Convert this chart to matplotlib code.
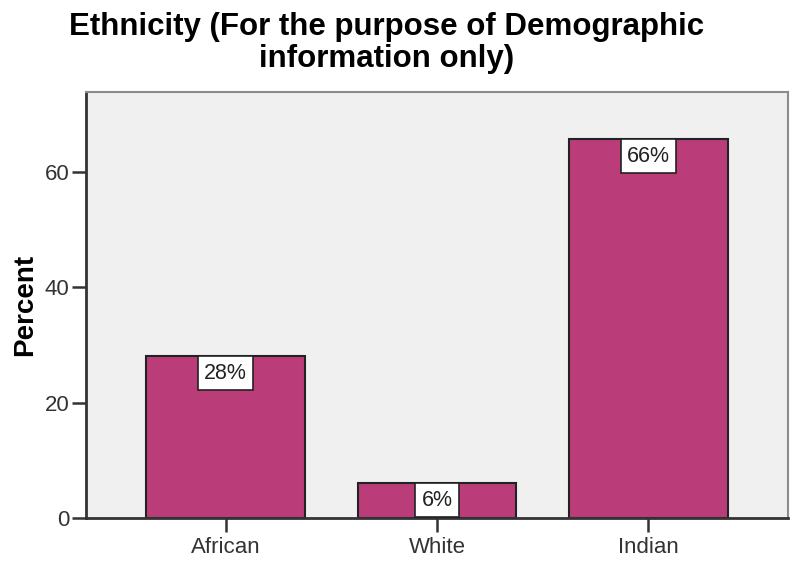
import matplotlib
matplotlib.use("Agg")
import matplotlib.pyplot as plt

plt.rcParams['font.family'] = ['Liberation Sans', 'DejaVu Sans']

# percent of respondents per ethnic group
groups = ['African', 'White', 'Indian']
percent = [28.1, 6.1, 65.7]
labels = ['28%', '6%', '66%']

bar_color = '#BA3D7A'
dark = '#333333'

fig = plt.figure(figsize=(7.9, 5.63), dpi=100)
ax = fig.add_axes([0.1089, 0.0799, 0.8886, 0.7567])
ax.set_facecolor('#F0F0F0')

x = range(len(groups))
ax.bar(x, percent, width=0.75, color=bar_color, edgecolor='#222222', linewidth=1.5, zorder=2)

for xi, val, lab in zip(x, percent, labels):
    ax.annotate(lab, (xi, val), xytext=(0, -5), textcoords='offset points',
                ha='center', va='top', fontsize=15.5, color='#222222', zorder=3,
                bbox=dict(boxstyle='square,pad=0.3', fc='white', ec='#222222', lw=1.2))

ax.set_xlim(-0.66, 2.66)
ax.set_ylim(0, 73.8)
ax.set_xticks(list(x))
ax.set_xticklabels(groups)
ax.set_yticks([0, 20, 40, 60])

ax.tick_params(axis='both', labelsize=16, colors=dark, length=10, width=1.8, pad=2)
ax.tick_params(axis='x', pad=4)

for side in ['left', 'bottom']:
    ax.spines[side].set_color(dark)
    ax.spines[side].set_linewidth(2)
for side in ['top', 'right']:
    ax.spines[side].set_color('#8c8c8c')
    ax.spines[side].set_linewidth(1.5)

ax.set_ylabel('Percent', fontsize=20, fontweight='bold', color='black', labelpad=5)

fig.suptitle('Ethnicity (For the purpose of Demographic\ninformation only)',
             x=0.489, y=0.978, fontsize=22.5, fontweight='bold', linespacing=1.05)

fig.savefig('out.png', dpi=100)
